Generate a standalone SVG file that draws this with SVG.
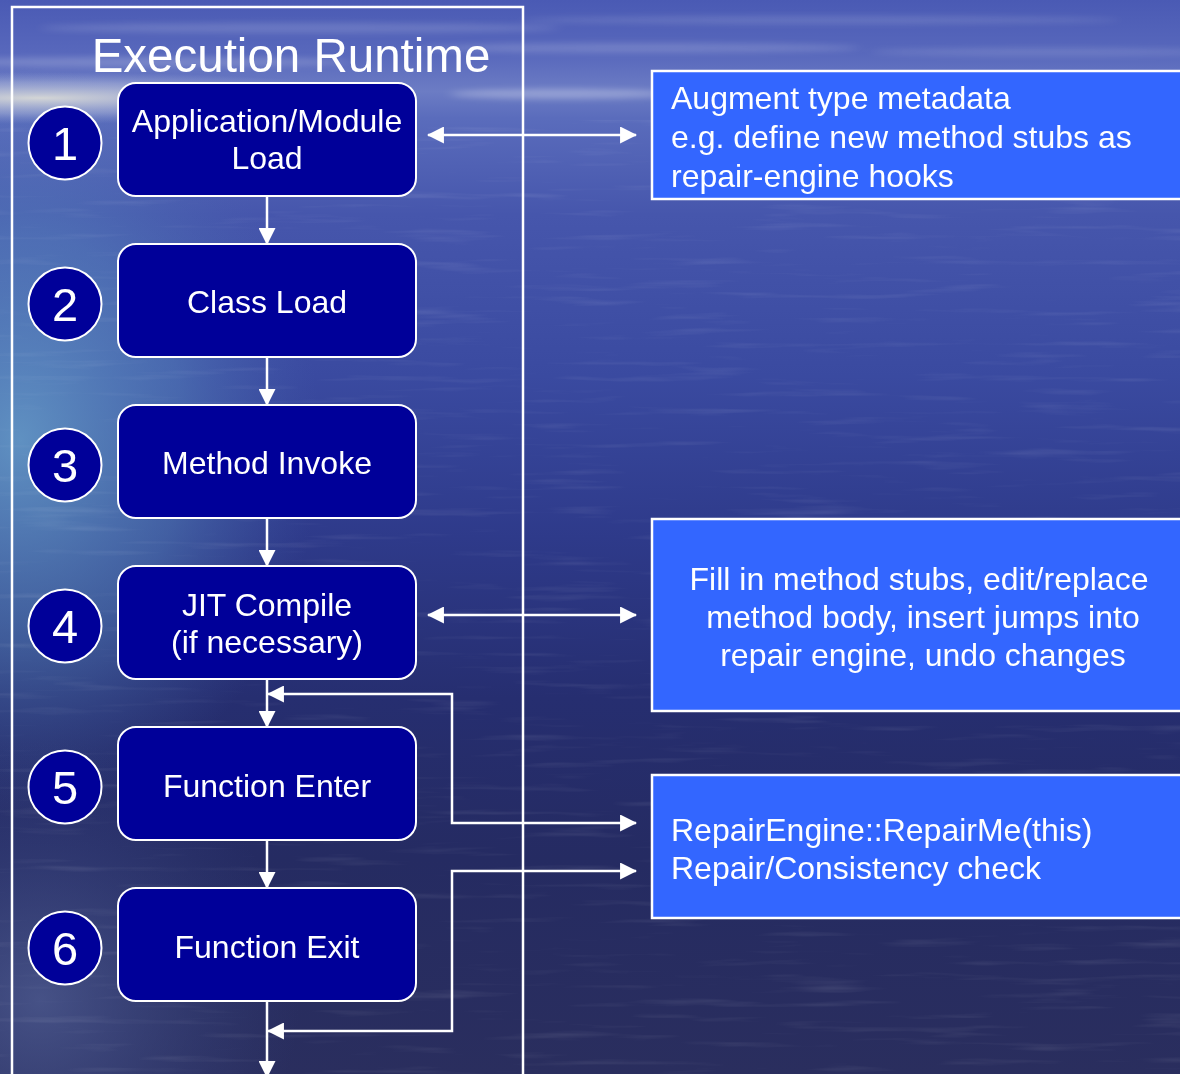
<svg xmlns="http://www.w3.org/2000/svg" width="1180" height="1074" viewBox="0 0 1180 1074">
  <defs>
    <style>
      .frame { fill: none; stroke: #ffffff; stroke-width: 2.5; }
      .step { fill: #000099; stroke: #ffffff; stroke-width: 2; }
      .badge { fill: #000099; stroke: #ffffff; stroke-width: 2; }
      .note { fill: #3366ff; stroke: #ffffff; stroke-width: 2.5; }
      .lbl { font-family: "Liberation Sans", Arial, sans-serif; fill: #ffffff; font-size: 32px; }
      .mid { text-anchor: middle; }
      .num { font-family: "Liberation Sans", Arial, sans-serif; fill: #ffffff; font-size: 47px; text-anchor: middle; }
      .title { font-family: "Liberation Sans", Arial, sans-serif; fill: #ffffff; font-size: 47.5px; text-anchor: middle; }
      .wire { fill: none; stroke: #ffffff; stroke-width: 2.5; }
    </style>
    <marker id="head" viewBox="0 0 16 16" refX="15" refY="8" markerWidth="17" markerHeight="17" markerUnits="userSpaceOnUse" orient="auto-start-reverse">
      <path d="M0,0 L16,8 L0,16 z" fill="#ffffff"/>
    </marker>
    <linearGradient id="sea" x1="0" y1="0" x2="0" y2="1">
      <stop offset="0" stop-color="#4a5ab4"/>
      <stop offset="0.05" stop-color="#5868bc"/>
      <stop offset="0.085" stop-color="#6c7cc4"/>
      <stop offset="0.11" stop-color="#5a6cbc"/>
      <stop offset="0.2" stop-color="#4656ac"/>
      <stop offset="0.35" stop-color="#3a4aa0"/>
      <stop offset="0.5" stop-color="#2e3a8a"/>
      <stop offset="0.65" stop-color="#262e70"/>
      <stop offset="0.8" stop-color="#252b62"/>
      <stop offset="1" stop-color="#2a2e5e"/>
    </linearGradient>
    <radialGradient id="shallows" cx="20" cy="440" r="300" gradientUnits="userSpaceOnUse" gradientTransform="translate(20,440) scale(1,1.25) translate(-20,-440)">
      <stop offset="0" stop-color="#6aa4cc" stop-opacity="0.8"/>
      <stop offset="0.55" stop-color="#5a8cc0" stop-opacity="0.45"/>
      <stop offset="1" stop-color="#4a6ab0" stop-opacity="0"/>
    </radialGradient>
    <radialGradient id="lowglow" cx="40" cy="1000" r="260" gradientUnits="userSpaceOnUse">
      <stop offset="0" stop-color="#5a6aa0" stop-opacity="0.6"/>
      <stop offset="1" stop-color="#3a4a8a" stop-opacity="0"/>
    </radialGradient>
    <radialGradient id="horizon" cx="40" cy="98" r="260" gradientUnits="userSpaceOnUse" gradientTransform="translate(40,98) scale(1.4,0.1) translate(-40,-98)">
      <stop offset="0" stop-color="#e0e0d8" stop-opacity="0.9"/>
      <stop offset="0.6" stop-color="#b8c0dc" stop-opacity="0.45"/>
      <stop offset="1" stop-color="#9aa6d6" stop-opacity="0"/>
    </radialGradient>
    <filter id="soft" x="-20%" y="-200%" width="140%" height="500%">
      <feGaussianBlur stdDeviation="6 3"/>
    </filter>
    <filter id="ripple" x="0" y="0" width="100%" height="100%">
      <feTurbulence type="fractalNoise" baseFrequency="0.008 0.12" numOctaves="3" seed="7"/>
      <feColorMatrix type="matrix" values="0 0 0 0 1  0 0 0 0 1  0 0 0 0 1  0 0 0 1.4 -0.8"/>
    </filter>
  </defs>

  <!-- sea and sky backdrop -->
  <rect x="0" y="0" width="1180" height="1074" fill="url(#sea)"/>
  <rect x="0" y="0" width="1180" height="1074" fill="url(#shallows)"/>
  <rect x="0" y="0" width="1180" height="1074" fill="url(#lowglow)"/>
  <rect x="0" y="0" width="1180" height="200" fill="url(#horizon)"/>
  <g fill="#ffffff" filter="url(#soft)">
    <ellipse cx="300" cy="28" rx="260" ry="5" opacity="0.15"/>
    <ellipse cx="820" cy="20" rx="300" ry="4" opacity="0.13"/>
    <ellipse cx="640" cy="48" rx="220" ry="5" opacity="0.16"/>
    <ellipse cx="1050" cy="52" rx="180" ry="4" opacity="0.13"/>
    <ellipse cx="150" cy="62" rx="200" ry="5" opacity="0.18"/>
    <ellipse cx="560" cy="94" rx="110" ry="5" opacity="0.28"/>
  </g>
  <rect x="0" y="120" width="1180" height="954" filter="url(#ripple)" opacity="0.16"/>

  <!-- runtime frame and heading -->
  <g id="runtime-frame">
    <rect class="frame" x="12" y="7" width="511" height="1080"/>
    <text class="title" x="291" y="72">Execution Runtime</text>
  </g>

  <!-- connectors -->
  <g id="connectors">
    <line class="wire" x1="267" y1="196" x2="267" y2="244" marker-end="url(#head)"/>
    <line class="wire" x1="267" y1="357" x2="267" y2="405" marker-end="url(#head)"/>
    <line class="wire" x1="267" y1="518" x2="267" y2="566" marker-end="url(#head)"/>
    <line class="wire" x1="267" y1="679" x2="267" y2="727" marker-end="url(#head)"/>
    <line class="wire" x1="267" y1="840" x2="267" y2="888" marker-end="url(#head)"/>
    <line class="wire" x1="267" y1="1001" x2="267" y2="1077" marker-end="url(#head)"/>
    <line class="wire" x1="428" y1="135" x2="636" y2="135" marker-start="url(#head)" marker-end="url(#head)"/>
    <line class="wire" x1="428" y1="615" x2="636" y2="615" marker-start="url(#head)" marker-end="url(#head)"/>
    <polyline class="wire" points="268,694 452,694 452,823 636,823" marker-start="url(#head)" marker-end="url(#head)"/>
    <polyline class="wire" points="268,1031 452,1031 452,871 636,871" marker-start="url(#head)" marker-end="url(#head)"/>
  </g>

  <!-- runtime steps -->
  <g id="step-1">
    <circle class="badge" cx="65" cy="143" r="36.5"/>
    <text class="num" x="65" y="160">1</text>
    <rect class="step" x="118" y="83" width="298" height="113" rx="18"/>
    <text class="lbl mid" x="267" y="132">Application/Module</text>
    <text class="lbl mid" x="267" y="169">Load</text>
  </g>
  <g id="step-2">
    <circle class="badge" cx="65" cy="304" r="36.5"/>
    <text class="num" x="65" y="321">2</text>
    <rect class="step" x="118" y="244" width="298" height="113" rx="18"/>
    <text class="lbl mid" x="267" y="313">Class Load</text>
  </g>
  <g id="step-3">
    <circle class="badge" cx="65" cy="465" r="36.5"/>
    <text class="num" x="65" y="482">3</text>
    <rect class="step" x="118" y="405" width="298" height="113" rx="18"/>
    <text class="lbl mid" x="267" y="474">Method Invoke</text>
  </g>
  <g id="step-4">
    <circle class="badge" cx="65" cy="626" r="36.5"/>
    <text class="num" x="65" y="643">4</text>
    <rect class="step" x="118" y="566" width="298" height="113" rx="18"/>
    <text class="lbl mid" x="267" y="616">JIT Compile</text>
    <text class="lbl mid" x="267" y="653">(if necessary)</text>
  </g>
  <g id="step-5">
    <circle class="badge" cx="65" cy="787" r="36.5"/>
    <text class="num" x="65" y="804">5</text>
    <rect class="step" x="118" y="727" width="298" height="113" rx="18"/>
    <text class="lbl mid" x="267" y="797">Function Enter</text>
  </g>
  <g id="step-6">
    <circle class="badge" cx="65" cy="948" r="36.5"/>
    <text class="num" x="65" y="965">6</text>
    <rect class="step" x="118" y="888" width="298" height="113" rx="18"/>
    <text class="lbl mid" x="267" y="958">Function Exit</text>
  </g>

  <!-- repair-engine notes -->
  <g id="note-metadata">
    <rect class="note" x="652" y="71" width="540" height="128"/>
    <text class="lbl" x="671" y="109">Augment type metadata</text>
    <text class="lbl" x="671" y="148">e.g. define new method stubs as</text>
    <text class="lbl" x="671" y="187">repair-engine hooks</text>
  </g>
  <g id="note-jit">
    <rect class="note" x="652" y="519" width="540" height="192"/>
    <text class="lbl mid" x="919" y="590">Fill in method stubs, edit/replace</text>
    <text class="lbl mid" x="923" y="628">method body, insert jumps into</text>
    <text class="lbl mid" x="923" y="666">repair engine, undo changes</text>
  </g>
  <g id="note-check">
    <rect class="note" x="652" y="775" width="540" height="143"/>
    <text class="lbl" x="671" y="841">RepairEngine::RepairMe(this)</text>
    <text class="lbl" x="671" y="879">Repair/Consistency check</text>
  </g>
</svg>
